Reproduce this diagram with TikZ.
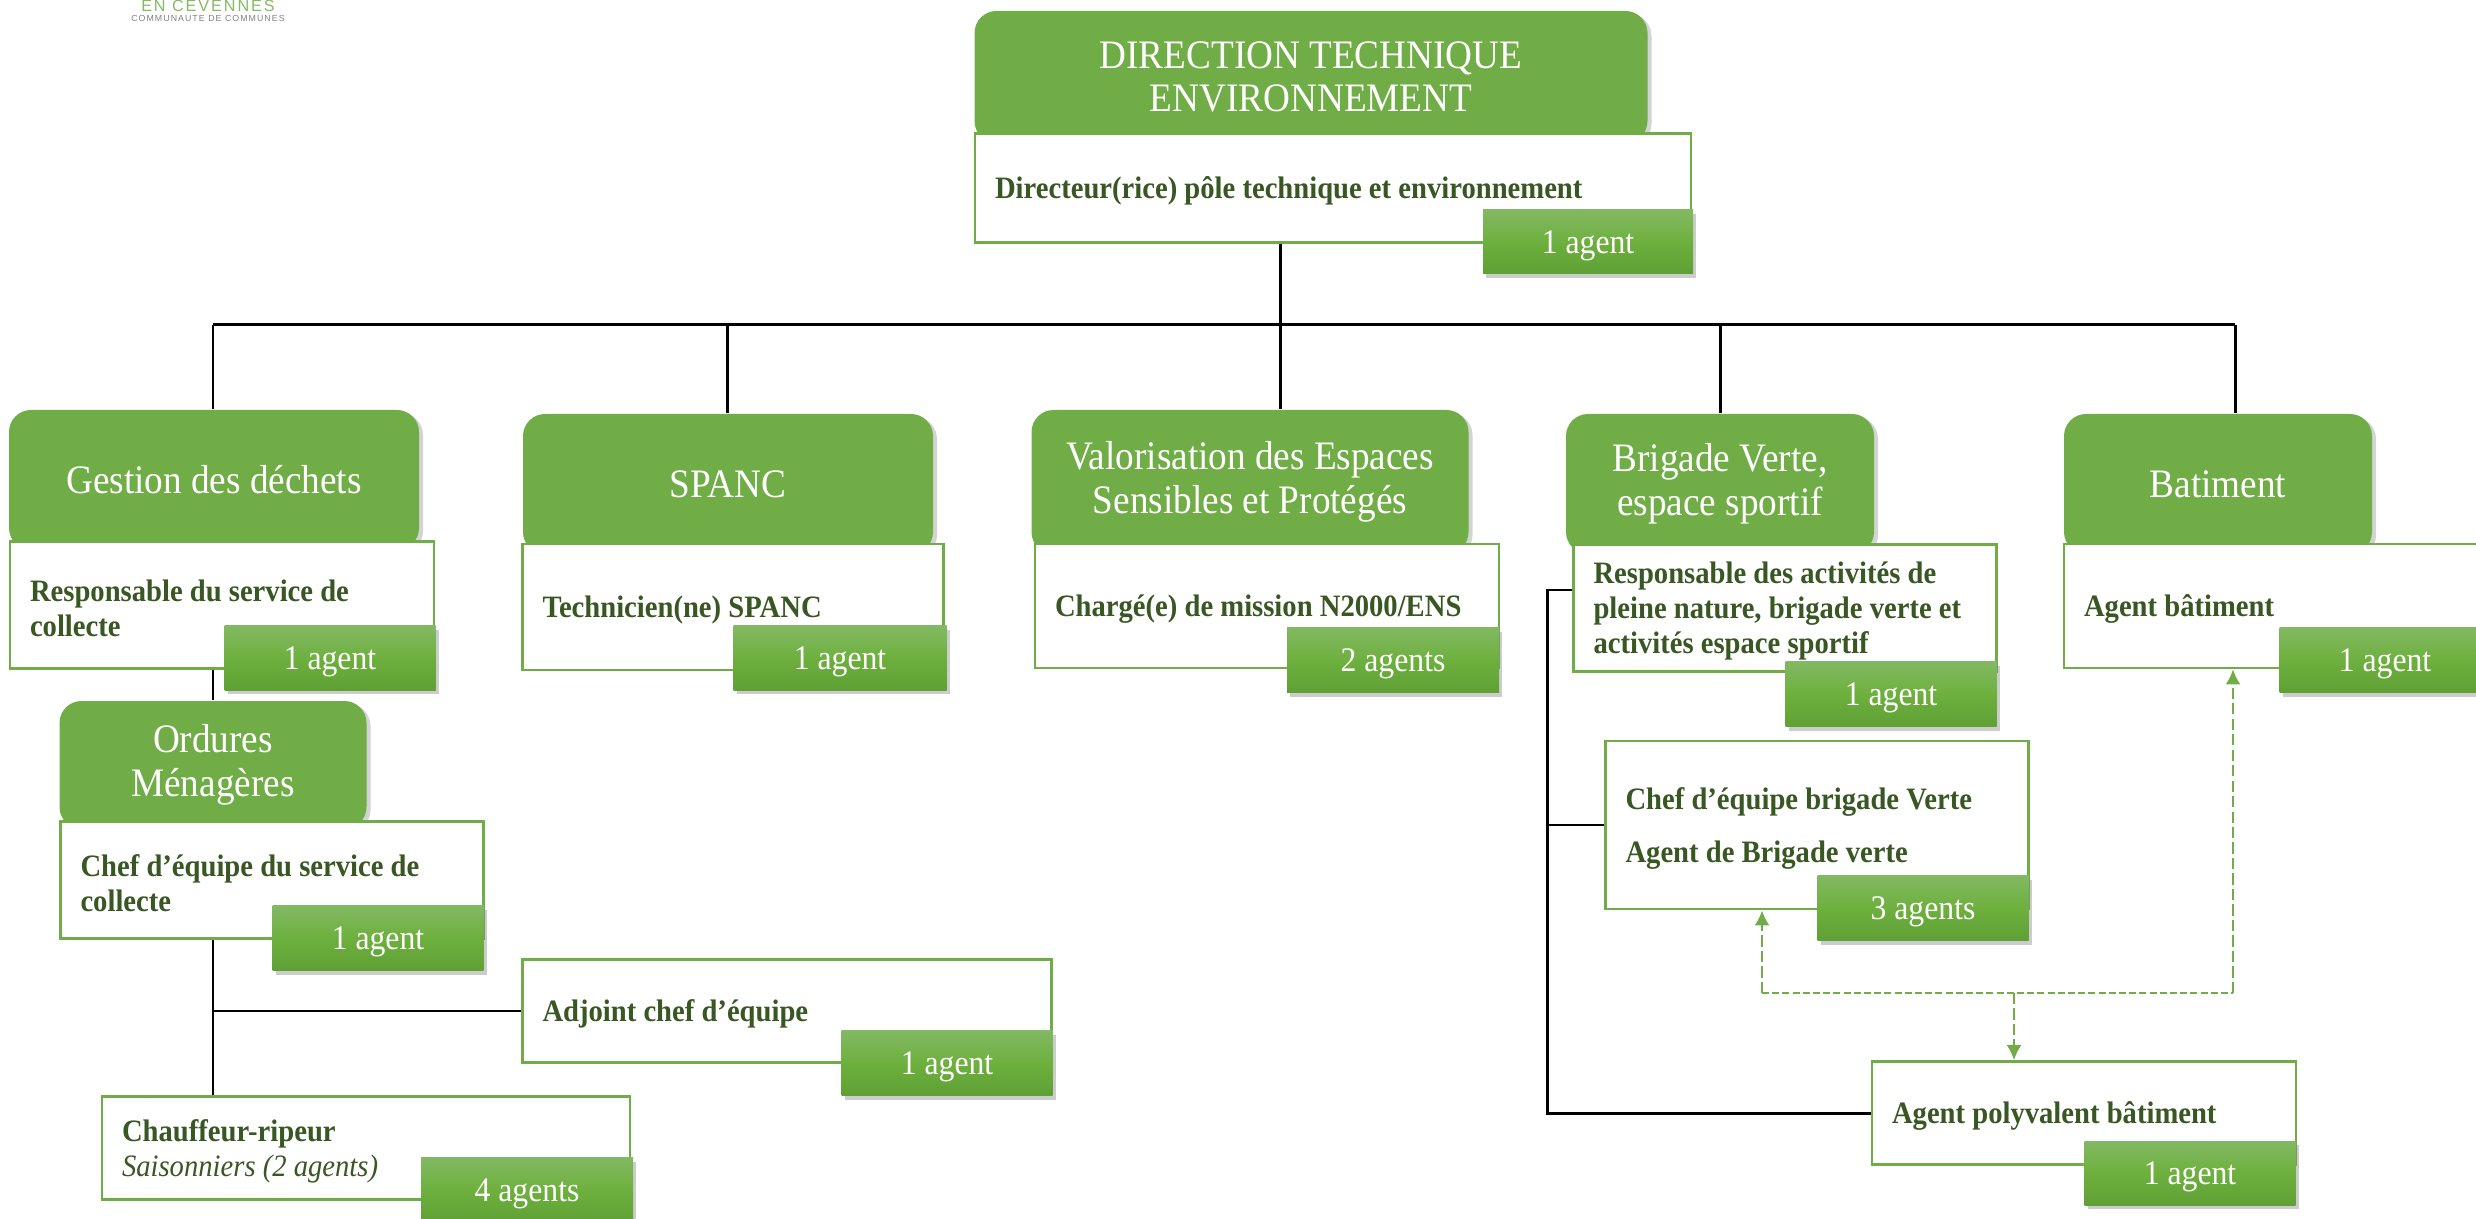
\documentclass[tikz,border=0pt]{standalone}
\usepackage{fontspec}
\setmainfont[FakeStretch=0.92]{Liberation Serif}
\newfontfamily\logofont[LetterSpace=12]{Liberation Sans}
\usetikzlibrary{arrows.meta,shadows,calc}
\definecolor{leaf}{HTML}{70AD47}
\definecolor{moss}{HTML}{385723}
\definecolor{badgetop}{HTML}{82B963}
\definecolor{badgemid}{HTML}{6EB03E}
\definecolor{badgelow}{HTML}{5EA034}
\tikzset{wh/.style 2 args={minimum width=#1*0.01cm, minimum height=#2*0.01cm}}
\tikzset{head/.style={rounded corners=0.22cm, fill=leaf, text=white, align=center, inner sep=0pt, font=\fontsize{11.5}{12.4}\selectfont, drop shadow={shadow xshift=0.04cm, shadow yshift=-0.03cm, opacity=0.35}}}
\tikzset{post/.style={draw=leaf, line width=0.8pt, fill=white, align=flush left, text=moss, inner ysep=0pt, inner xsep=0.2cm, text width=#1*0.01cm-0.4cm, font=\fontsize{8.85}{10}\selectfont\bfseries, execute at begin node={\rule{0pt}{8pt}}}}
\tikzset{badge/.style={top color=badgetop, bottom color=badgelow, middle color=badgemid, text=white, inner sep=0pt, text height=0.3cm, font=\fontsize{9.8}{12}\selectfont, drop shadow={shadow xshift=0.03cm, shadow yshift=-0.04cm, opacity=0.4}}}
\tikzset{edge/.style={line width=0.85pt, black}}
\tikzset{dashline/.style={line width=0.6pt, leaf, dash pattern=on 2pt off 0.9pt}}
\tikzset{dasharc/.style={line width=0.6pt, leaf, dash pattern=on 3.2pt off 1.2pt, -{Latex[length=0.15cm, width=0.15cm]}}}
\begin{document}
\begin{tikzpicture}
[x=0.01cm, y=-0.01cm]
\useasboundingbox (0,0) rectangle (2476,1219);
%logo at the top of the page
\node (logoname) at (208,6)[text=leaf!85, inner sep=0pt, font=\fontsize{4.6}{5}\logofont]{EN CEVENNES};
\node (logosub) at (208,18)[text=black!50, inner sep=0pt, font=\fontsize{2.5}{3}\logofont]{COMMUNAUTE DE COMMUNES};
%top of the tree
\node (dirhead) at (1311,77)[head, wh={673}{132}]{DIRECTION TECHNIQUE\\ENVIRONNEMENT};
\node (dirpost) at (1333,188)[post=716, wh={716}{109}]{Directeur(rice) pôle technique et environnement};
\node (dirbadge) at (1588,242)[badge, wh={210}{64}]{1 agent};
%first column
\node (dechethead) at (214,480)[head, wh={410}{140}]{Gestion des déchets};
\node (dechetpost) at (222,605)[post=424, wh={424}{127}]{Responsable du service de\\collecte};
\node (dechetbadge) at (330,658)[badge, wh={211}{64}]{1 agent};
\node (omhead) at (213,765)[head, wh={307}{128}]{Ordures\\Ménagères};
\node (ompost) at (272,880)[post=423, wh={423}{117}]{Chef d’équipe du service de\\collecte};
\node (ombadge) at (378,938)[badge, wh={211}{65}]{1 agent};
\node (adjpost) at (787,1011)[post=529, wh={529}{103}]{Adjoint chef d’équipe};
\node (adjbadge) at (947,1063)[badge, wh={211}{65}]{1 agent};
\node (ripeurpost) at (366,1148)[post=528, wh={528}{103}]{Chauffeur-ripeur\\{\mdseries\itshape Saisonniers (2 agents)}};
\node (ripeurbadge) at (527,1190)[badge, wh={212}{65}]{4 agents};
%second column
\node (spanchead) at (728,484)[head, wh={410}{140}]{SPANC};
\node (spancpost) at (733,607)[post=421, wh={421}{126}]{Technicien(ne) SPANC};
\node (spancbadge) at (840,658)[badge, wh={213}{64}]{1 agent};
%third column
\node (valohead) at (1250,482)[head, wh={437}{144}]{Valorisation des Espaces\\Sensibles et Protégés};
\node (valopost) at (1267,606)[post=464, wh={464}{124}]{Chargé(e) de mission N2000/ENS};
\node (valobadge) at (1393,660)[badge, wh={212}{65}]{2 agents};
%fourth column
\node (brighead) at (1720,484)[head, wh={308}{140}]{Brigade Verte,\\espace sportif};
\node (brigpost) at (1785,608)[post=423, wh={423}{127}]{Responsable des activités de\\pleine nature, brigade verte et\\activités espace sportif};
\node (brigbadge) at (1891,694)[badge, wh={211}{65}]{1 agent};
\node (chefpost) at (1817,825)[post=423, wh={423}{168}]{Chef d’équipe brigade Verte\\[0.18cm]Agent de Brigade verte};
\node (chefbadge) at (1923,908)[badge, wh={211}{65}]{3 agents};
\node (polypost) at (2084,1113)[post=424, wh={424}{103}]{Agent polyvalent bâtiment};
\node (polybadge) at (2190,1173)[badge, wh={211}{64}]{1 agent};
%fifth column
\node (bathead) at (2218,484)[head, wh={308}{140}]{Batiment};
\node (batpost) at (2276,606)[post=424, wh={424}{124}]{Agent bâtiment};
\node (batbadge) at (2385,660)[badge, wh={211}{65}]{1 agent};
%bus and its drops
\coordinate (b1) at (213,325);
\coordinate (b2) at (727,325);
\coordinate (b3) at (1280,325);
\coordinate (b4) at (1720,325);
\coordinate (b5) at (2235,325);
\draw[edge] (b1)--(b5);
\draw[edge] (b3 |- dirpost.south)--(b3);
\draw[edge] (b1)--(b1 |- dechethead.north);
\draw[edge] (b2)--(b2 |- spanchead.north);
\draw[edge] (b3)--(b3 |- valohead.north);
\draw[edge] (b4)--(b4 |- brighead.north);
\draw[edge] (b5)--(b5 |- bathead.north);
\draw[edge] (b1 |- dechetpost.south)--(b1 |- omhead.north);
\draw[edge] (b1 |- ompost.south)--(b1 |- ripeurpost.north);
\draw[edge] (b1 |- adjpost.west)--(adjpost.west);
\coordinate (v1) at (1547,590);
\coordinate (v2) at (1547,825);
\coordinate (v3) at (1547,1113);
\draw[edge] (v1 -| brigpost.west)--(v1)--(v3)--(polypost.west);
\draw[edge] (v2)--(chefpost.west);
%dashed links
\coordinate (d1) at (1762,993);
\coordinate (d2) at (2014,993);
\coordinate (d3) at (2233,993);
\draw[dashline] (d1)--(d3);
\draw[dasharc] (d1)--(d1 |- chefpost.south);
\draw[dasharc] (d2)--(d2 |- polypost.north);
\draw[dasharc] (d3)--(d3 |- batpost.south);
\end{tikzpicture}
\end{document}
